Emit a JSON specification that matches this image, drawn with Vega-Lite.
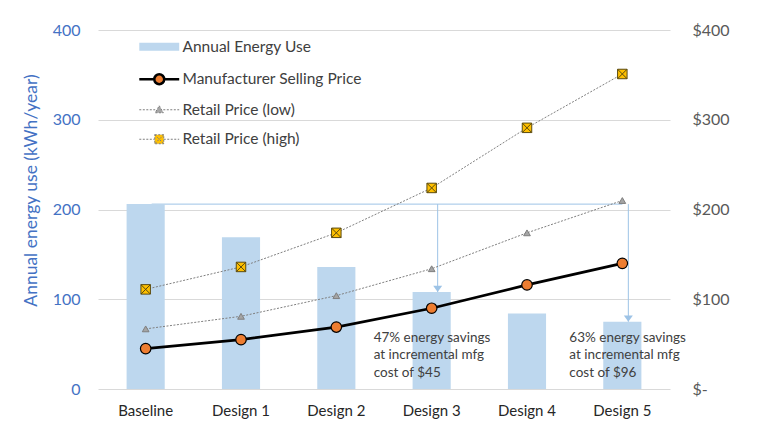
{
  "$schema": "https://vega.github.io/schema/vega-lite/v6.json",
  "width": 572,
  "height": 359,
  "autosize": {"type": "none"},
  "padding": {"left": 98, "top": 30, "right": 89, "bottom": 42},
  "background": "white",
  "config": {"view": {"stroke": null}, "font": "Lato"},
  "datasets": {
    "energy": [
      {"design": "Baseline", "series": "Annual Energy Use", "kwh": 206},
      {"design": "Design 1", "series": "Annual Energy Use", "kwh": 169},
      {"design": "Design 2", "series": "Annual Energy Use", "kwh": 136},
      {"design": "Design 3", "series": "Annual Energy Use", "kwh": 108},
      {"design": "Design 4", "series": "Annual Energy Use", "kwh": 84},
      {"design": "Design 5", "series": "Annual Energy Use", "kwh": 75}
    ],
    "prices": [
      {"design": "Baseline", "series": "Manufacturer Selling Price", "price": 45},
      {"design": "Design 1", "series": "Manufacturer Selling Price", "price": 55},
      {"design": "Design 2", "series": "Manufacturer Selling Price", "price": 69},
      {"design": "Design 3", "series": "Manufacturer Selling Price", "price": 90},
      {"design": "Design 4", "series": "Manufacturer Selling Price", "price": 116},
      {"design": "Design 5", "series": "Manufacturer Selling Price", "price": 140},
      {"design": "Baseline", "series": "Retail Price (low)", "price": 67},
      {"design": "Design 1", "series": "Retail Price (low)", "price": 81},
      {"design": "Design 2", "series": "Retail Price (low)", "price": 104},
      {"design": "Design 3", "series": "Retail Price (low)", "price": 134},
      {"design": "Design 4", "series": "Retail Price (low)", "price": 174},
      {"design": "Design 5", "series": "Retail Price (low)", "price": 210},
      {"design": "Baseline", "series": "Retail Price (high)", "price": 111},
      {"design": "Design 1", "series": "Retail Price (high)", "price": 136},
      {"design": "Design 2", "series": "Retail Price (high)", "price": 174},
      {"design": "Design 3", "series": "Retail Price (high)", "price": 224},
      {"design": "Design 4", "series": "Retail Price (high)", "price": 291},
      {"design": "Design 5", "series": "Retail Price (high)", "price": 351}
    ],
    "arrows": [
      {"design": "Design 3", "top": 206, "bottom": 108},
      {"design": "Design 5", "top": 206, "bottom": 75}
    ],
    "span": [
      {"start": "Baseline", "end": "Design 5", "kwh": 206}
    ],
    "notes": [
      {"design": "Design 3", "note": ["47% energy savings", "at incremental mfg", "cost of $45"]},
      {"design": "Design 5", "note": ["63% energy savings", "at incremental mfg", "cost of $96"]}
    ]
  },
  "layer": [
    {
      "layer": [
        {
          "data": {"name": "span"},
          "mark": {"type": "rule", "color": "#9DC3E6", "strokeWidth": 1, "xOffset": 6},
          "encoding": {
            "x": {"field": "start", "type": "nominal", "scale": {"domain": ["Baseline", "Design 1", "Design 2", "Design 3", "Design 4", "Design 5"], "paddingInner": 0.6, "paddingOuter": 0.3}, "axis": {"title": null, "labelAngle": 0, "labelFontSize": 15, "labelColor": "#262626", "labelPadding": 14, "ticks": false, "domain": false, "labelFont": "Lato"}},
            "x2": {"field": "end"},
            "y": {"field": "kwh", "type": "quantitative", "scale": {"domain": [0, 400]}}
          }
        },
        {
          "data": {"name": "energy"},
          "mark": {"type": "bar", "opacity": 1},
          "encoding": {
            "x": {"field": "design", "type": "nominal", "scale": {"domain": ["Baseline", "Design 1", "Design 2", "Design 3", "Design 4", "Design 5"], "paddingInner": 0.6, "paddingOuter": 0.3}, "axis": {"title": null, "labelAngle": 0, "labelFontSize": 15, "labelColor": "#262626", "labelPadding": 14, "ticks": false, "domain": false, "labelFont": "Lato"}},
            "y": {"field": "kwh", "type": "quantitative", "scale": {"domain": [0, 400]}, "axis": {"orient": "left", "values": [0, 100, 200, 300, 400], "labelFontSize": 16, "labelFont": "Lato", "labelColor": "#4472C4", "labelPadding": 18, "ticks": false, "domain": false, "grid": true, "gridColor": "#D9D9D9", "gridWidth": 1, "title": "Annual energy use (kWh/year)", "titleColor": "#4472C4", "titleFontSize": 17.5, "titleFont": "Lato", "titleFontWeight": "normal", "titlePadding": 12, "titleY": 160}},
            "color": {
              "field": "series", "type": "nominal",
              "scale": {"domain": ["Annual Energy Use", "Manufacturer Selling Price", "Retail Price (low)", "Retail Price (high)"], "range": ["#BDD7EE", "#ED7D31", "#A5A5A5", "#FFC000"]},
              "legend": {
                "orient": "none", "legendX": 53.5, "legendY": 9, "title": null, "padding": 0,
                "symbolSize": 900, "symbolStrokeWidth": 1, "labelOffset": 15.5, "rowPadding": 12.5,
                "labelFont": "Lato", "labelFontSize": 15.5, "labelColor": "#404040", "labelLimit": 300,
                "symbolOpacity": 1,
                "encode": {
                  "symbols": {
                    "update": {
                      "shape": {"signal": "datum.value === 'Annual Energy Use' ? 'M-1.33,-0.27H1.33V0.27H-1.33Z' : datum.value === 'Manufacturer Selling Price' ? 'M-1.33,0H-0.33M0.33,0H1.33M0.33,0A0.33,0.33,0,1,1,-0.33,0A0.33,0.33,0,1,1,0.33,0Z' : datum.value === 'Retail Price (low)' ? 'M-1.33,0H-0.27M0.27,0H1.33M0,-0.27L0.27,0.2L-0.27,0.2Z' : 'M-1.33,0H-0.3M0.3,0H1.33M-0.3,-0.3H0.3V0.3H-0.3ZM-0.3,-0.3L0.3,0.3M0.3,-0.3L-0.3,0.3'"},
                      "fill": {"signal": "datum.value === 'Annual Energy Use' ? '#BDD7EE' : datum.value === 'Manufacturer Selling Price' ? '#ED7D31' : datum.value === 'Retail Price (low)' ? '#A5A5A5' : '#FFC000'"},
                      "stroke": {"signal": "datum.value === 'Annual Energy Use' ? 'transparent' : datum.value === 'Manufacturer Selling Price' ? '#000000' : '#7F7F7F'"},
                      "strokeWidth": {"signal": "datum.value === 'Manufacturer Selling Price' ? 2.5 : 1"},
                      "strokeDash": {"signal": "(datum.value === 'Retail Price (low)' || datum.value === 'Retail Price (high)') ? [2, 1.5] : null"},
                      "opacity": {"value": 1}
                    }
                  }
                }
              }
            }
          }
        },
        {
          "data": {"name": "arrows"},
          "mark": {"type": "rule", "color": "#9DC3E6", "strokeWidth": 1, "xOffset": 6},
          "encoding": {
            "x": {"field": "design", "type": "nominal"},
            "y": {"field": "top", "type": "quantitative"},
            "y2": {"field": "bottom"}
          }
        },
        {
          "data": {"name": "arrows"},
          "mark": {"type": "point", "shape": "M-1,-1.4H1L0,0Z", "size": 81, "filled": true, "fill": "#9DC3E6", "opacity": 1, "xOffset": 6},
          "encoding": {
            "x": {"field": "design", "type": "nominal"},
            "y": {"field": "bottom", "type": "quantitative"}
          }
        },
        {
          "data": {"name": "notes"},
          "transform": [{"filter": "datum.design === 'Design 3'"}],
          "mark": {"type": "text", "align": "left", "baseline": "top", "dx": -58, "font": "Lato", "fontSize": 13.5, "lineHeight": 17.5, "color": "#404040"},
          "encoding": {
            "x": {"field": "design", "type": "nominal"},
            "y": {"datum": 65, "type": "quantitative"},
            "text": {"field": "note"}
          }
        },
        {
          "data": {"name": "notes"},
          "transform": [{"filter": "datum.design === 'Design 5'"}],
          "mark": {"type": "text", "align": "left", "baseline": "top", "dx": -53, "font": "Lato", "fontSize": 13.5, "lineHeight": 17.5, "color": "#404040"},
          "encoding": {
            "x": {"field": "design", "type": "nominal"},
            "y": {"datum": 65, "type": "quantitative"},
            "text": {"field": "note"}
          }
        }
      ]
    },
    {
      "data": {"name": "prices"},
      "encoding": {
        "x": {"field": "design", "type": "nominal"},
        "y": {"field": "price", "type": "quantitative", "scale": {"domain": [0, 400]}, "axis": {"orient": "right", "values": [0, 100, 200, 300, 400], "labelExpr": "datum.value == 0 ? '$-' : '$' + datum.value", "labelFontSize": 16, "labelFont": "Lato", "labelColor": "#595959", "labelAlign": "left", "labelPadding": 22, "ticks": false, "domain": false, "grid": false, "title": null}}
      },
      "layer": [
        {
          "transform": [{"filter": "datum.series === 'Retail Price (low)'"}],
          "mark": {"type": "line", "stroke": "#7F7F7F", "strokeWidth": 1, "strokeDash": [2, 1.5]}
        },
        {
          "transform": [{"filter": "datum.series === 'Retail Price (high)'"}],
          "mark": {"type": "line", "stroke": "#7F7F7F", "strokeWidth": 1, "strokeDash": [2, 1.5]}
        },
        {
          "transform": [{"filter": "datum.series === 'Manufacturer Selling Price'"}],
          "mark": {"type": "line", "stroke": "#000000", "strokeWidth": 2.75}
        },
        {
          "transform": [{"filter": "datum.series === 'Retail Price (low)'"}],
          "mark": {"type": "point", "shape": "triangle-up", "size": 45, "filled": true, "fill": "#A5A5A5", "stroke": "#7F7F7F", "strokeWidth": 1, "opacity": 1}
        },
        {
          "transform": [{"filter": "datum.series === 'Retail Price (high)'"}],
          "mark": {"type": "point", "shape": "M-1,-1H1V1H-1ZM-1,-1L1,1M1,-1L-1,1", "size": 90, "filled": true, "fill": "#FFC000", "stroke": "#5A4A10", "strokeWidth": 1, "opacity": 1}
        },
        {
          "transform": [{"filter": "datum.series === 'Manufacturer Selling Price'"}],
          "mark": {"type": "point", "shape": "circle", "size": 110, "filled": true, "fill": "#ED7D31", "stroke": "#000000", "strokeWidth": 1.2, "opacity": 1}
        }
      ]
    }
  ],
  "resolve": {"scale": {"y": "independent"}}
}
